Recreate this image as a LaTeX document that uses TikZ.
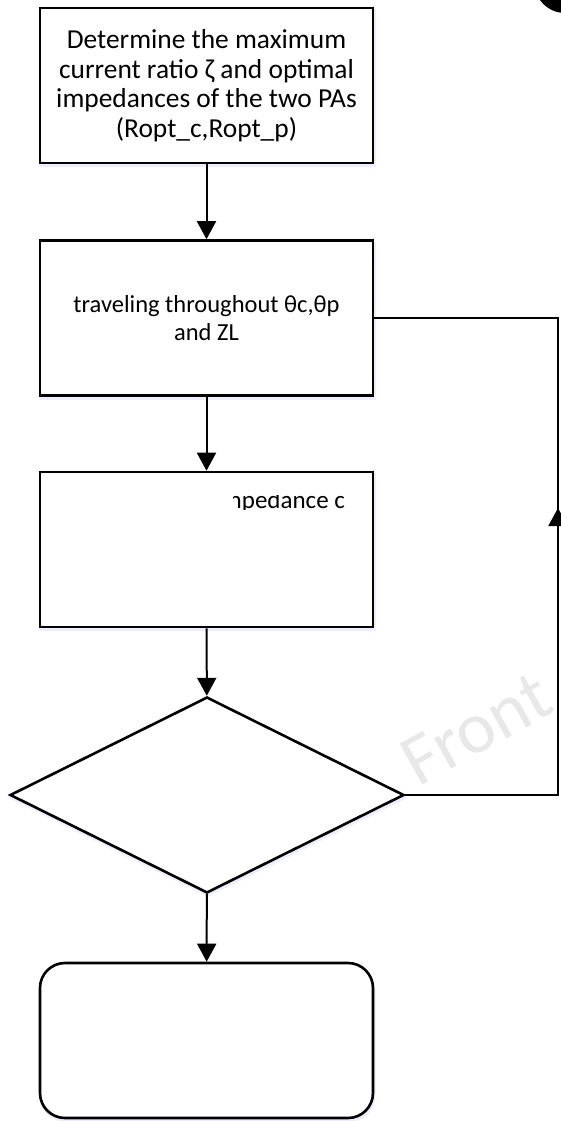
\documentclass[tikz,border=0pt]{standalone}
\usepackage{fontspec}
\setmainfont{Carlito}
\usetikzlibrary{arrows.meta,shapes.geometric}
\begin{document}
\begin{tikzpicture}[x=1pt,y=-1pt,
  glow/.style={preaction={fill=blue!7, draw=blue!7, line width=3pt,
    transform canvas={xshift=1pt,yshift=-2.5pt}}},
  box/.style={draw, line width=2.6pt, minimum width=333pt, minimum height=155pt,
    inner sep=0pt, align=center, fill=white, glow},
  decision/.style={draw, diamond, line width=2.6pt, minimum width=394pt,
    minimum height=196pt, inner sep=0pt, fill=white, glow},
  conn/.style={line width=2pt},
  arr/.style={line width=2pt, -{Triangle[width=19pt,length=18pt]}},
  wmark/.style={text=black!9, inner sep=0pt}]
\useasboundingbox (0,0) rectangle (561,1121);
\clip (0,0) rectangle (561,1121);
% watermark
\node[wmark, rotate=29, anchor=base west, font=\fontsize{73}{73}\selectfont] (wm) at (418,788) {Front};
% corner blob
\fill (565,-17.5) circle (30.5pt);
% boxes
\node[box, font=\fontsize{27.4}{29.5}\selectfont] (b1) at (206.5,85.5)
  {Determine the maximum\\current ratio ζ and optimal\\impedances of the two PAs\\(Ropt\_c,Ropt\_p)};
\node[box, font=\fontsize{24.5}{28.5}\selectfont] (b2) at (206.5,318)
  {traveling throughout θc,θp\\and ZL};
\node[box] (b3) at (206.5,549.5) {};
\begin{scope}
  \clip (233,495) rectangle (345,509.5);
  \node[anchor=base west, inner sep=0pt, font=\fontsize{25}{30}\selectfont] (t3) at (216,508) {impedance c};
\end{scope}
\node[decision] (d) at (207,795) {};
\node[box, rounded corners=25pt] (e) at (206.5,1040.5) {};
% connectors
\draw[arr] (b1) -- (b2);
\draw[arr] (b2) -- (b3);
\draw[arr] (b3) -- (d);
\draw[arr] (d) -- (e);
\coordinate (r1) at (558,795);
\coordinate (r2) at (558,318);
\coordinate (tip) at (558,508);
\draw[conn] (d.east) -- (r1) -- (r2) -- (b2.east);
\draw[arr] (r1) -- (tip);
\end{tikzpicture}
\end{document}
